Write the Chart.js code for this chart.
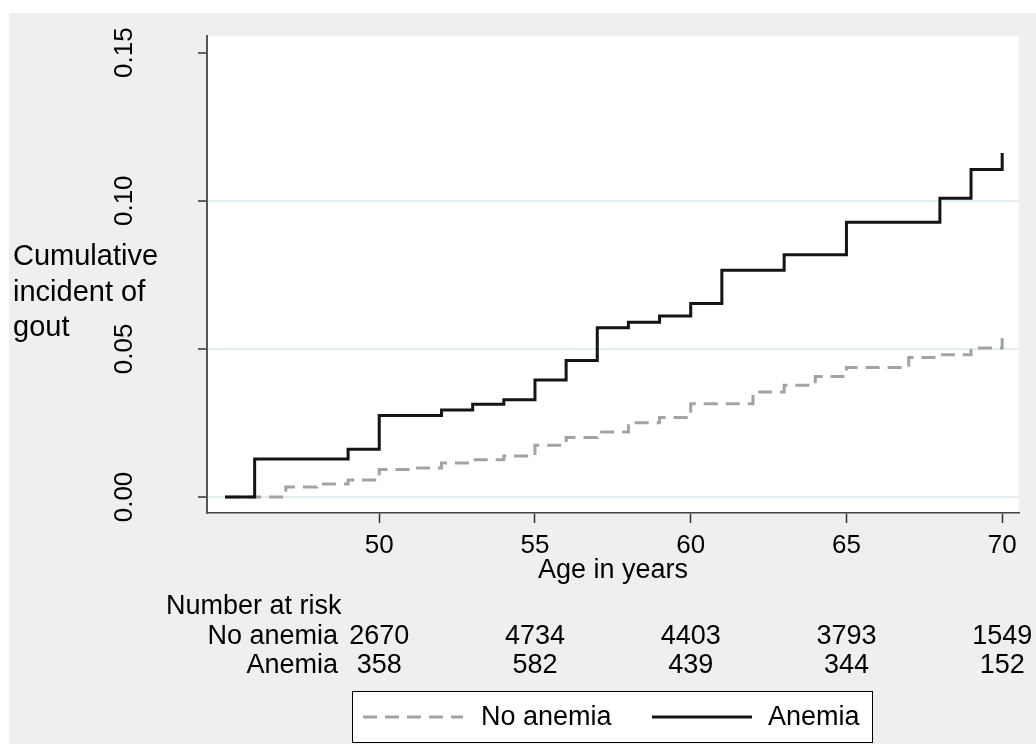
<!DOCTYPE html>
<html>
<head>
<meta charset="utf-8">
<script src="https://cdn.jsdelivr.net/npm/chart.js@4"></script>
<style>
html, body { margin: 0; padding: 0; background: #fff; }
canvas { display: block; }
</style>
</head>
<body>
<canvas id="km" width="1036" height="744"></canvas>
<script>
// step points: age where the curve changes, cumulative incidence after the step
const anemiaAge = [45.05, 46, 49, 50, 52, 53, 54, 55, 56, 57, 58, 59, 60, 61, 63, 65, 68, 69, 70];
const anemiaCum = [0, 0.0128, 0.0161, 0.0275, 0.0294, 0.0313, 0.0328, 0.0395, 0.0461, 0.0571, 0.059, 0.0611, 0.0653, 0.0765, 0.0818, 0.0927, 0.1008, 0.1105, 0.1161];

const noAnemiaAge = [45.05, 47, 48, 49, 50, 51, 52, 53, 54, 55, 56, 57, 58, 59, 60, 62, 63, 64, 65, 67, 68, 69, 70];
const noAnemiaCum = [0, 0.0034, 0.0044, 0.0057, 0.0093, 0.0098, 0.0115, 0.0126, 0.0138, 0.0175, 0.0201, 0.0219, 0.0251, 0.0268, 0.0315, 0.0354, 0.0377, 0.0407, 0.0437, 0.0471, 0.048, 0.0503, 0.0537];

const xTicks = [50, 55, 60, 65, 70];
const yTicks = [0, 0.05, 0.10, 0.15];
const yTickLabels = ['0.00', '0.05', '0.10', '0.15'];

const riskAges = [50, 55, 60, 65, 70];
const riskNoAnemia = [2670, 4734, 4403, 3793, 1549];
const riskAnemia = [358, 582, 439, 344, 152];

const FONT = "'Liberation Sans', Arial, sans-serif";
const GRAY = '#a3a3a3';
const BLACK = '#141414';
const DASH = [14, 8];

const toPoints = (xs, ys) => xs.map((x, i) => ({ x: x, y: ys[i] }));

const decor = {
  id: 'decor',
  beforeDraw(chart) {
    const ctx = chart.ctx;
    const a = chart.chartArea;
    ctx.save();
    ctx.fillStyle = '#ffffff';
    ctx.fillRect(0, 0, chart.width, chart.height);
    ctx.fillStyle = '#efefef';
    ctx.fillRect(9, 13, chart.width - 9, chart.height - 13);
    ctx.fillStyle = '#ffffff';
    ctx.fillRect(a.left, a.top, a.right - a.left, a.bottom - a.top);
    ctx.restore();
  },
  afterDraw(chart) {
    const ctx = chart.ctx;
    const a = chart.chartArea;
    const xs = chart.scales.x;
    const ys = chart.scales.y;
    ctx.save();
    ctx.fillStyle = '#000';

    // y tick labels, rotated
    ctx.font = '26px ' + FONT;
    ctx.textAlign = 'center';
    ctx.textBaseline = 'middle';
    yTicks.forEach((v, i) => {
      ctx.save();
      ctx.translate(125, ys.getPixelForValue(v));
      ctx.rotate(-Math.PI / 2);
      ctx.fillText(yTickLabels[i], 0, 0);
      ctx.restore();
    });

    // y title
    ctx.font = '29px ' + FONT;
    ctx.textAlign = 'left';
    ['Cumulative', 'incident of', 'gout'].forEach((t, i) => {
      ctx.fillText(t, 13, 257 + i * 35.5);
    });

    // x title
    ctx.font = '27px ' + FONT;
    ctx.textAlign = 'center';
    ctx.fillText('Age in years', (a.left + a.right) / 2, 571);

    // number at risk table
    ctx.font = '27px ' + FONT;
    ctx.textAlign = 'left';
    ctx.fillText('Number at risk', 166, 607);
    ctx.textAlign = 'right';
    ctx.fillText('No anemia', 338, 637);
    ctx.fillText('Anemia', 338, 666);
    ctx.textAlign = 'center';
    riskAges.forEach((age, i) => {
      const px = xs.getPixelForValue(age);
      ctx.fillText(String(riskNoAnemia[i]), px, 637);
      ctx.fillText(String(riskAnemia[i]), px, 666);
    });

    // legend
    ctx.fillStyle = '#fff';
    ctx.fillRect(352, 691, 520, 51);
    ctx.strokeStyle = '#000';
    ctx.lineWidth = 1;
    ctx.strokeRect(352.5, 691.5, 520, 51);
    ctx.lineWidth = 3;
    ctx.strokeStyle = GRAY;
    ctx.setLineDash(DASH);
    ctx.beginPath();
    ctx.moveTo(363, 717);
    ctx.lineTo(463, 717);
    ctx.stroke();
    ctx.setLineDash([]);
    ctx.strokeStyle = BLACK;
    ctx.beginPath();
    ctx.moveTo(652, 717);
    ctx.lineTo(752, 717);
    ctx.stroke();
    ctx.fillStyle = '#000';
    ctx.textAlign = 'left';
    ctx.font = '27px ' + FONT;
    ctx.fillText('No anemia', 481, 718);
    ctx.fillText('Anemia', 768, 718);
    ctx.restore();
  }
};

new Chart(document.getElementById('km'), {
  type: 'line',
  data: {
    datasets: [
      {
        label: 'Anemia',
        data: toPoints(anemiaAge, anemiaCum),
        borderColor: BLACK,
        borderWidth: 3,
        stepped: true,
        pointRadius: 0,
        fill: false,
        order: 0,
        borderCapStyle: 'butt',
        borderJoinStyle: 'miter'
      },
      {
        label: 'No anemia',
        data: toPoints(noAnemiaAge, noAnemiaCum),
        borderColor: GRAY,
        borderWidth: 3,
        borderDash: DASH,
        stepped: true,
        pointRadius: 0,
        fill: false,
        order: 1,
        borderCapStyle: 'butt',
        borderJoinStyle: 'miter'
      }
    ]
  },
  options: {
    responsive: false,
    animation: false,
    devicePixelRatio: 1,
    layout: { padding: { left: 0, top: 36, right: 17, bottom: 0 } },
    plugins: {
      legend: { display: false },
      tooltip: { enabled: false }
    },
    scales: {
      x: {
        type: 'linear',
        min: 44.47,
        max: 70.54,
        afterBuildTicks: s => { s.ticks = xTicks.map(v => ({ value: v })); },
        afterFit: s => { s.height = 231; },
        ticks: {
          color: '#000',
          font: { family: FONT, size: 26 },
          padding: 7,
          maxRotation: 0,
          autoSkip: false,
          callback: v => String(v)
        },
        grid: {
          drawOnChartArea: false,
          drawTicks: true,
          tickLength: 10,
          tickColor: '#333',
          tickWidth: 1.5
        },
        border: { display: true, color: '#444', width: 1.5 }
      },
      y: {
        type: 'linear',
        min: -0.0054,
        max: 0.1556,
        afterBuildTicks: s => { s.ticks = yTicks.map(v => ({ value: v })); },
        afterFit: s => { s.width = 207; },
        ticks: { display: false },
        grid: {
          color: c => (c.tick && c.tick.value > 0.12) ? 'rgba(0,0,0,0)' : '#e3eef0',
          lineWidth: 2,
          drawTicks: true,
          tickLength: 9,
          tickColor: '#333',
          tickWidth: 1.5
        },
        border: { display: true, color: '#555', width: 2 }
      }
    }
  },
  plugins: [decor]
});
</script>
</body>
</html>
